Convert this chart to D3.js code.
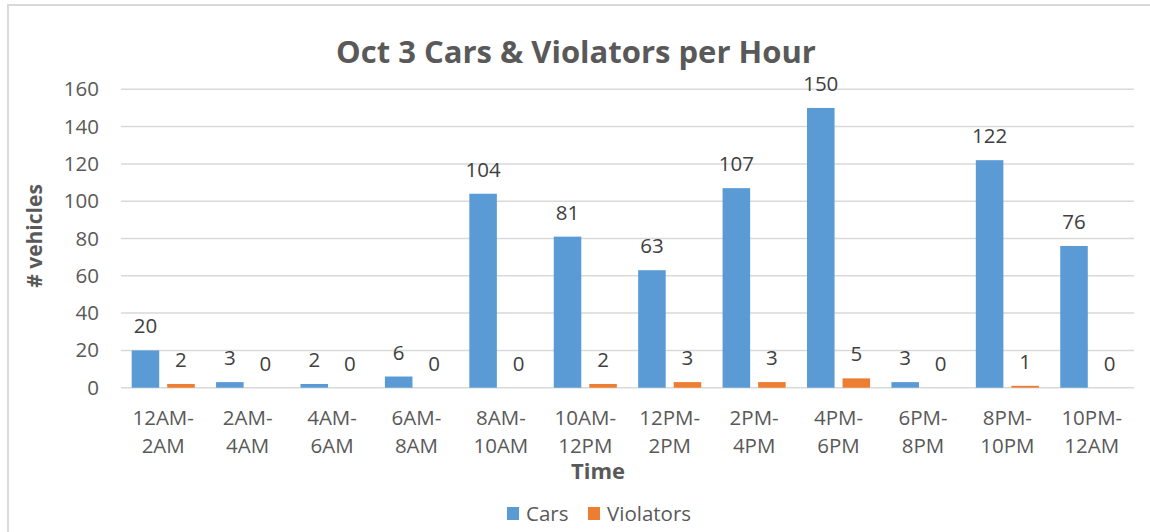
<!DOCTYPE html>
<html>
<head>
<meta charset="utf-8">
<script src="https://cdn.jsdelivr.net/npm/d3@7"></script>
<style>
  body { margin: 0; background: #fff; }
  svg { display: block; font-family: "Open Sans", sans-serif; }
</style>
</head>
<body>
<div id="chart"></div>
<script>
(function(d3) {
  'use strict';

  var categories = [
    ['12AM-', '2AM'], ['2AM-', '4AM'], ['4AM-', '6AM'], ['6AM-', '8AM'],
    ['8AM-', '10AM'], ['10AM-', '12PM'], ['12PM-', '2PM'], ['2PM-', '4PM'],
    ['4PM-', '6PM'], ['6PM-', '8PM'], ['8PM-', '10PM'], ['10PM-', '12AM']
  ];
  var series = ['Cars', 'Violators'];
  var cars = [20, 3, 2, 6, 104, 81, 63, 107, 150, 3, 122, 76];
  var violators = [2, 0, 0, 0, 0, 2, 3, 3, 5, 0, 1, 0];
  var yTicks = [0, 20, 40, 60, 80, 100, 120, 140, 160];

  var width = 1150;
  var height = 532;
  var plotLeft = 121, plotRight = 1134, plotTop = 89.3, plotBottom = 387.7;
  var textColor = '#595959';
  var fontSize = '20.5px';

  var color = d3.scaleOrdinal()
    .domain(series)
    .range(['#5B9BD5', '#ED7D31']);

  var rows = categories.map(function(c, i) {
    return { key: c.join(''), lines: c, values: [
      { series: 'Cars', value: cars[i] },
      { series: 'Violators', value: violators[i] }
    ] };
  });

  var svg = d3.select('#chart')
    .append('svg')
    .attr('width', width)
    .attr('height', height);

  // chart border
  svg.append('rect')
    .attr('x', 8).attr('y', 5)
    .attr('width', 1160).attr('height', 540)
    .attr('fill', 'none')
    .attr('stroke', '#d9d9d9')
    .attr('stroke-width', 2);

  var x0 = d3.scaleBand()
    .domain(rows.map(function(d) { return d.key; }))
    .range([plotLeft, plotRight])
    .padding(0);

  var x1 = d3.scaleBand()
    .domain(series)
    .range([0, x0.bandwidth()])
    .paddingInner(0.225)
    .paddingOuter(0.3);

  var y = d3.scaleLinear()
    .domain([0, 160])
    .range([plotBottom, plotTop]);

  // gridlines
  svg.append('g')
    .selectAll('line')
    .data(yTicks)
    .enter()
    .append('line')
    .attr('x1', plotLeft).attr('x2', plotRight)
    .attr('y1', function(d) { return y(d); })
    .attr('y2', function(d) { return y(d); })
    .attr('stroke', '#d9d9d9')
    .attr('stroke-width', 1.5);

  // y axis labels
  var yAxis = d3.axisLeft(y)
    .tickValues(yTicks)
    .tickSize(0)
    .tickPadding(22);

  var yg = svg.append('g')
    .attr('transform', 'translate(' + plotLeft + ',0)')
    .call(yAxis);
  yg.select('.domain').remove();
  yg.selectAll('text')
    .attr('fill', textColor)
    .style('font-size', fontSize)
    .style('font-family', '"Open Sans", sans-serif');

  // bars
  var groups = svg.append('g')
    .selectAll('g')
    .data(rows)
    .enter()
    .append('g')
    .attr('transform', function(d) { return 'translate(' + x0(d.key) + ',0)'; });

  groups.selectAll('rect')
    .data(function(d) { return d.values; })
    .enter()
    .append('rect')
    .attr('x', function(d) { return x1(d.series); })
    .attr('y', function(d) { return y(d.value); })
    .attr('width', x1.bandwidth())
    .attr('height', function(d) { return y(0) - y(d.value); })
    .attr('fill', function(d) { return color(d.series); });

  // data labels
  groups.selectAll('text.value')
    .data(function(d) { return d.values; })
    .enter()
    .append('text')
    .attr('class', 'value')
    .attr('x', function(d) { return x1(d.series) + x1.bandwidth() / 2; })
    .attr('y', function(d) { return y(d.value) - 17; })
    .attr('text-anchor', 'middle')
    .attr('fill', '#404040')
    .style('font-size', fontSize)
    .text(function(d) { return d.value; });

  // x axis labels
  var xl = svg.append('g')
    .selectAll('text')
    .data(rows)
    .enter()
    .append('text')
    .attr('text-anchor', 'middle')
    .attr('fill', textColor)
    .style('font-size', fontSize);

  xl.selectAll('tspan')
    .data(function(d) {
      var cx = x0(d.key) + x0.bandwidth() / 2;
      return d.lines.map(function(l) { return { text: l, cx: cx }; });
    })
    .enter()
    .append('tspan')
    .attr('x', function(d) { return d.cx; })
    .attr('y', function(d, i) { return 425 + i * 28; })
    .text(function(d) { return d.text; });

  // titles
  svg.append('text')
    .attr('x', 576).attr('y', 63)
    .attr('text-anchor', 'middle')
    .attr('fill', textColor)
    .style('font-size', '31px')
    .style('font-weight', 'bold')
    .text('Oct 3 Cars & Violators per Hour');

  svg.append('text')
    .attr('x', 598).attr('y', 479)
    .attr('text-anchor', 'middle')
    .attr('fill', textColor)
    .style('font-size', '22px')
    .style('font-weight', 'bold')
    .text('Time');

  svg.append('text')
    .attr('transform', 'translate(42,236) rotate(-90)')
    .attr('text-anchor', 'middle')
    .attr('fill', textColor)
    .style('font-size', '21px')
    .style('font-weight', 'bold')
    .text('# vehicles');

  // legend
  var legendPos = [507, 588];
  var legend = svg.selectAll('.legend')
    .data(color.domain())
    .enter()
    .append('g')
    .attr('class', 'legend')
    .attr('transform', function(d, i) { return 'translate(' + legendPos[i] + ',507)'; });

  legend.append('rect')
    .attr('width', 12)
    .attr('height', 13)
    .attr('fill', color);

  legend.append('text')
    .attr('x', 19)
    .attr('y', 14)
    .attr('fill', textColor)
    .style('font-size', fontSize)
    .text(function(d) { return d; });

})(window.d3);
</script>
</body>
</html>
